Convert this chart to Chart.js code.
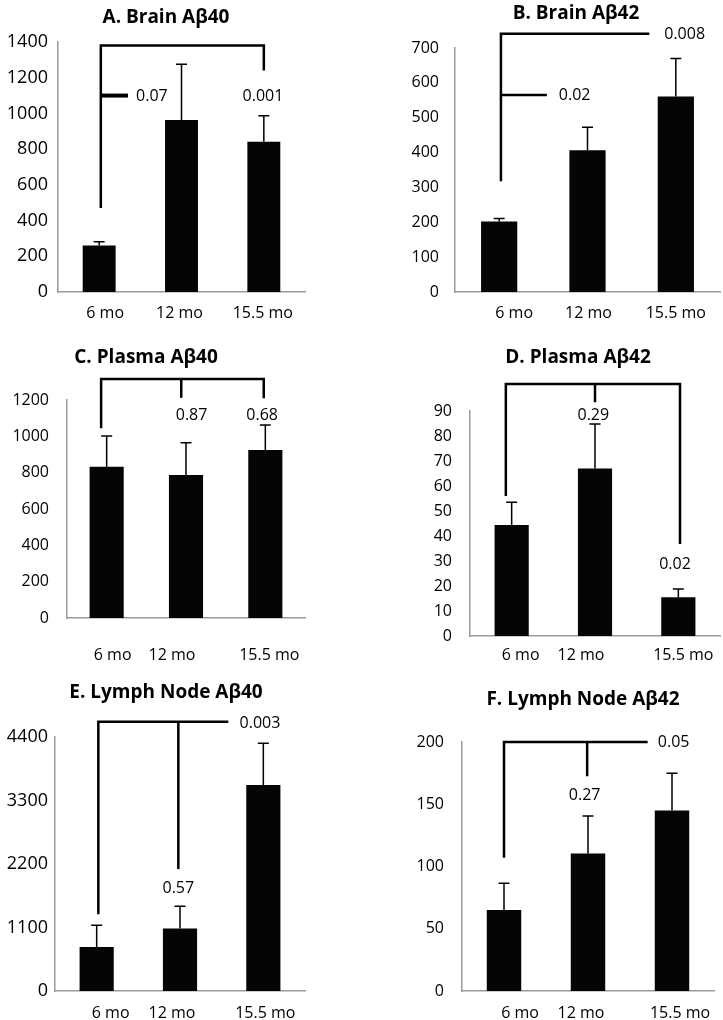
<!DOCTYPE html>
<html>
<head>
<meta charset="utf-8">
<script src="https://cdn.jsdelivr.net/npm/chart.js@4.4.1/dist/chart.umd.min.js"></script>
<style>
    body { margin: 0; background: #fff; width: 723px; height: 1020px; position: relative; overflow: hidden; }
    canvas { position: absolute; }
</style>
</head>
<body>
<script>
// data
const categories = ["6 mo", "12 mo", "15.5 mo"];

const brainAb40Mean = [260, 963, 842];
const brainAb40Err = [22, 312, 145];
const brainAb42Mean = [202, 407, 561];
const brainAb42Err = [9, 66, 109];
const plasmaAb40Mean = [833, 787, 925];
const plasmaAb40Err = [169, 178, 137];
const plasmaAb42Mean = [44.4, 67, 15.5];
const plasmaAb42Err = [9.1, 17.8, 3.3];
const lymphAb40Mean = [763, 1082, 3568];
const lymphAb40Err = [377, 387, 723];
const lymphAb42Mean = [65, 110.5, 145];
const lymphAb42Err = [21.5, 30, 30];

// y axis ranges [max, step]
const brainAb40Ticks = [1400, 200];
const brainAb42Ticks = [700, 100];
const plasmaAb40Ticks = [1200, 200];
const plasmaAb42Ticks = [90, 10];
const lymphAb40Ticks = [4400, 1100];
const lymphAb42Ticks = [200, 50];

// comparison brackets: polylines of [category index, value]
const brainAb40Brackets = [[[0.02, 470], [0.02, 1380], [2, 1380], [2, 1240]], [[0.02, 1100], [0.35, 1100]]];
const brainAb42Brackets = [[[0.02, 318], [0.02, 741], [1.7, 741]], [[0.02, 565], [0.54, 565]]];
const plasmaAb40Brackets = [[[-0.07, 1045], [-0.07, 1315], [1.98, 1315], [1.98, 1210]], [[0.94, 1315], [0.94, 1212]]];
const plasmaAb42Brackets = [[[-0.07, 56], [-0.07, 100.8], [2.02, 100.8], [2.02, 36.8]], [[1.0, 100.8], [1.0, 93.5]]];
const lymphAb40Brackets = [[[0.02, 1330], [0.02, 4666], [1.58, 4666]], [[0.98, 4666], [0.98, 2112]]];
const lymphAb42Brackets = [[[0.0, 107], [0.0, 200], [1.71, 200]], [[0.99, 200], [0.99, 172.5]]];

// p values: [text, category index, value]
const brainAb40P = [["0.07", 0.64, 1097], ["0.001", 1.99, 1097]];
const brainAb42P = [["0.02", 0.855, 565], ["0.008", 2.1, 740]];
const plasmaAb40P = [["0.87", 1.07, 1117], ["0.68", 1.96, 1117]];
const plasmaAb42P = [["0.29", 0.98, 88.4], ["0.02", 1.96, 28.8]];
const lymphAb40P = [["0.003", 1.96, 4628], ["0.57", 0.98, 1782]];
const lymphAb42P = [["0.05", 2.02, 200], ["0.27", 0.96, 157]];

const FONT = "'Open Sans', 'Noto Sans', sans-serif";

// panel placement (page pixels): box = canvas bounds, area = plot area, titlePos = title centre,
// labelShift = how far each category label sits off its bar in the original
const panels = [
    { title: "A. Brain A\u03b240", mean: brainAb40Mean, err: brainAb40Err, ticks: brainAb40Ticks,
      brackets: brainAb40Brackets, pvals: brainAb40P, thickTick: true,
      box: [0, 0, 362, 325], area: [58, 42, 305, 292], titlePos: [166, 18], labelY: 313, labelShift: [6, -2, -1],
      tickPad: 10, tickSize: 18, barPct: 0.40 },
    { title: "B. Brain A\u03b242", mean: brainAb42Mean, err: brainAb42Err, ticks: brainAb42Ticks,
      brackets: brainAb42Brackets, pvals: brainAb42P,
      box: [362, 0, 723, 325], area: [455, 48, 720, 292], titlePos: [576, 14], labelY: 313, labelShift: [15, 1, 0],
      tickPad: 16, tickSize: 16, barPct: 0.41 },
    { title: "C. Plasma A\u03b240", mean: plasmaAb40Mean, err: plasmaAb40Err, ticks: plasmaAb40Ticks,
      brackets: plasmaAb40Brackets, pvals: plasmaAb40P,
      box: [0, 325, 362, 680], area: [67, 400, 305, 618], titlePos: [146, 358], labelY: 655, labelShift: [6, -14, 4],
      tickPad: 18, tickSize: 16, barPct: 0.43 },
    { title: "D. Plasma A\u03b242", mean: plasmaAb42Mean, err: plasmaAb42Err, ticks: plasmaAb42Ticks,
      brackets: plasmaAb42Brackets, pvals: plasmaAb42P,
      box: [362, 325, 723, 680], area: [470, 411, 720, 636], titlePos: [578, 358], labelY: 655, labelShift: [9, -14, 5],
      tickPad: 18, tickSize: 16, barPct: 0.41 },
    { title: "E. Lymph Node A\u03b240", mean: lymphAb40Mean, err: lymphAb40Err, ticks: lymphAb40Ticks,
      brackets: lymphAb40Brackets, pvals: lymphAb40P,
      box: [0, 680, 362, 1020], area: [55, 737, 305, 991], titlePos: [166, 693], labelY: 1013, labelShift: [14, -8, 2],
      tickPad: 7, tickSize: 18, barPct: 0.41 },
    { title: "F. Lymph Node A\u03b242", mean: lymphAb42Mean, err: lymphAb42Err, ticks: lymphAb42Ticks,
      brackets: lymphAb42Brackets, pvals: lymphAb42P,
      box: [362, 680, 723, 1020], area: [462, 742, 714, 991], titlePos: [583, 700], labelY: 1013, labelShift: [16, -7, 8],
      tickPad: 18, tickSize: 16, barPct: 0.41 }
];

// title, category labels, error bars, brackets and p values
const annotations = {
    id: "annotations",
    afterDraw(chart, args, opts) {
        const ctx = chart.ctx;
        const xs = chart.scales.x;
        const ys = chart.scales.y;
        const meta = chart.getDatasetMeta(0);
        ctx.save();
        ctx.strokeStyle = "#000";
        ctx.fillStyle = "#000";
        ctx.textAlign = "center";
        ctx.textBaseline = "middle";

        ctx.font = "bold 19px " + FONT;
        ctx.fillText(opts.title, opts.titlePos[0] - opts.box[0], opts.titlePos[1] - opts.box[1]);

        ctx.font = "16px " + FONT;
        chart.data.labels.forEach((lab, i) => {
            ctx.fillText(lab, xs.getPixelForValue(i) + opts.labelShift[i], opts.labelY - opts.box[1]);
        });

        ctx.lineWidth = 1.5;
        opts.mean.forEach((v, i) => {
            const bar = meta.data[i];
            const top = ys.getPixelForValue(v + opts.err[i]);
            ctx.beginPath();
            ctx.moveTo(bar.x, bar.y);
            ctx.lineTo(bar.x, top);
            ctx.moveTo(bar.x - 5.5, top);
            ctx.lineTo(bar.x + 5.5, top);
            ctx.stroke();
        });

        ctx.lineJoin = "miter";
        opts.brackets.forEach((path, k) => {
            ctx.lineWidth = (opts.thickTick && k === 1) ? 4 : 2.5;
            ctx.beginPath();
            path.forEach((p, j) => {
                const px = xs.getPixelForValue(p[0]);
                const py = ys.getPixelForValue(p[1]);
                if (j === 0) ctx.moveTo(px, py); else ctx.lineTo(px, py);
            });
            ctx.stroke();
        });

        opts.pvals.forEach(p => {
            ctx.fillText(p[0], xs.getPixelForValue(p[1]), ys.getPixelForValue(p[2]));
        });
        ctx.restore();
    }
};

function renderPanel(p) {
    const [bx0, by0, bx1, by1] = p.box;
    const [L, T, R, B] = p.area;

    const canvas = document.createElement("canvas");
    canvas.width = bx1 - bx0;
    canvas.height = by1 - by0;
    canvas.style.left = bx0 + "px";
    canvas.style.top = by0 + "px";
    document.body.appendChild(canvas);

    new Chart(canvas.getContext("2d"), {
        type: "bar",
        data: {
            labels: categories,
            datasets: [{
                data: p.mean,
                backgroundColor: "#050505",
                borderWidth: 0,
                barPercentage: p.barPct,
                categoryPercentage: 1
            }]
        },
        options: {
            responsive: false,
            animation: false,
            layout: { padding: { left: 0, right: bx1 - R, top: T - by0, bottom: 0 } },
            scales: {
                x: {
                    grid: { display: false, drawTicks: false },
                    border: { color: "#9a9a9a", width: 1.5 },
                    ticks: { display: false },
                    afterFit: s => { s.height = by1 - B; }
                },
                y: {
                    min: 0,
                    max: p.ticks[0],
                    grid: { display: false, drawTicks: false },
                    border: { color: "#9a9a9a", width: 1.5 },
                    ticks: {
                        stepSize: p.ticks[1],
                        color: "#000",
                        font: { family: FONT, size: p.tickSize },
                        padding: p.tickPad,
                        callback: v => String(v)
                    },
                    afterFit: s => { s.width = L - bx0; }
                }
            },
            plugins: {
                legend: { display: false },
                tooltip: { enabled: false },
                title: { display: false },
                annotations: p
            }
        },
        plugins: [annotations]
    });
}

panels.forEach(renderPanel);
</script>
</body>
</html>
